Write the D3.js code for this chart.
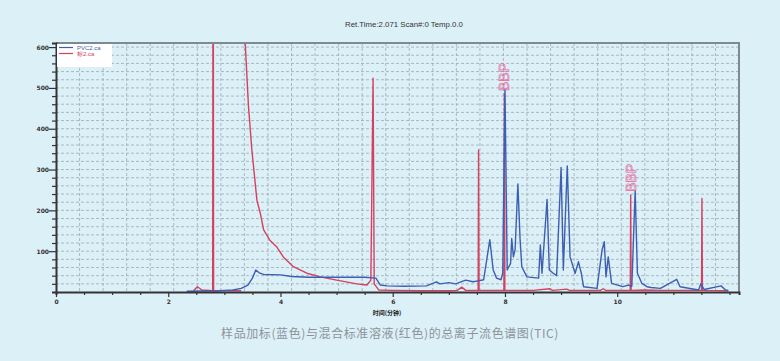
<!DOCTYPE html>
<meta charset="utf-8">
<style>
  body { margin: 0; background: #dcf0f8; }
  svg { display: block; }
</style>
<div id="tic"></div>
<script src="https://cdn.jsdelivr.net/npm/d3@7/dist/d3.min.js"></script>
<script>

// PVC2.ca (blue) - sample with spike
var blueTime = [2.33, 2.9, 3.0, 3.15, 3.3, 3.42, 3.5, 3.56, 3.62, 3.7, 4.0, 4.2, 4.5, 5.0, 5.5, 5.7, 5.78, 5.9,
  6.2, 6.6, 6.78, 6.84, 7.0, 7.12, 7.3, 7.43, 7.55, 7.62, 7.73, 7.79, 7.85, 7.93, 7.96, 8.0, 8.04, 8.1, 8.12,
  8.15, 8.18, 8.23, 8.27, 8.3, 8.39, 8.6, 8.63, 8.66, 8.75, 8.79, 8.86, 8.92, 9.0, 9.04, 9.11, 9.16, 9.25,
  9.31, 9.36, 9.4, 9.64, 9.73, 9.77, 9.8, 9.84, 9.9, 10.1, 10.2, 10.26, 10.32, 10.36, 10.44, 10.53, 10.6,
  10.77, 11.06, 11.12, 11.45, 11.49, 11.55, 11.85, 11.93, 11.98];
var blueVal = [2, 3, 4, 5, 9, 17, 34, 54, 47, 43, 42, 38, 36, 36, 36, 34, 17, 15,
  14, 15, 25, 20, 23, 20, 29, 25, 28, 30, 128, 54, 34, 30, 46, 497, 54, 70, 131,
  86, 103, 265, 127, 62, 37, 34, 115, 46, 227, 54, 46, 40, 305, 54, 309, 86, 46,
  74, 46, 13, 9, 103, 123, 37, 86, 21, 13, 17, 14, 248, 46, 21, 13, 11,
  9, 31, 13, 5, 20, 6, 15, 5, 4];

// 标2.ca (red) - mixed standard; NaN = no data
var redTime = [2.45, 2.52, 2.6, 2.792, 2.8, 2.808, 3.3, 3.33, 3.36, 3.43, 3.49, 3.58, 3.64, 3.7, 3.81, 3.93,
  4.05, 4.23, 4.47, 4.71, 5.0, 5.36, 5.54, 5.61, 5.65, 5.67, 5.75, 6.0, 6.5, 7.0, 7.15, 7.23, 7.3, 7.522,
  7.53, 7.538, 7.982, 7.99, 7.998, 8.5, 8.8, 8.85, 9.1, 9.15, 9.7, 9.75, 9.8, 10.232, 10.24, 10.248, 10.5,
  10.8, 11.502, 11.51, 11.518, 11.98];
var redVal = [3, 13, 5, 3, 1200, 3, 3, NaN, 640, 454, 348, 225, 193, 152, 127, 111,
  86, 62, 46, 37, 29, 20, 17, 29, 524, 20, 5, 4, 3, 3, 4, 12, 4, 4,
  348, 4, 4, 485, 4, 4, 8, 4, 7, 4, 4, 8, 4, 4, 238, 4, 5,
  4, 4, 229, 4, 3];

var peakNames = ["BBP", "BBP"];
var peakTimes = [7.99, 10.24];
var peakVals = [485, 238];

var xLabels = [0, 2, 4, 6, 8, 10];
var yLabels = [100, 200, 300, 400, 500, 600];

var W = 780, H = 361;
var margin = {top: 43, right: 41, bottom: 69, left: 56},
    width = W - margin.left - margin.right,
    height = H - margin.top - margin.bottom;

var blueC = "#3d5fb2", redC = "#d6405f";

var svg = d3.select("#tic")
  .append("svg")
    .attr("width", W)
    .attr("height", H);

svg.append("text")
  .attr("x", 404).attr("y", 27)
  .attr("text-anchor", "middle")
  .style("font-family", "Liberation Sans, Arial, sans-serif")
  .style("font-size", "7.8px")
  .attr("fill", "#333")
  .text("Ret.Time:2.071 Scan#:0 Temp.0.0");

var g = svg.append("g")
  .attr("transform", "translate(" + margin.left + "," + margin.top + ")");

var x = d3.scaleLinear().domain([0, 12.17]).range([0, width]);
var y = d3.scaleLinear().domain([0, 610]).range([height, 0]);

// grid
g.append("g")
  .selectAll("line")
  .data(d3.range(20, 601, 20))
  .enter().append("line")
    .attr("x1", 0).attr("x2", width)
    .attr("y1", function(d) { return y(d); })
    .attr("y2", function(d) { return y(d); })
    .attr("stroke", "#9daab2")
    .attr("stroke-width", 0.8)
    .attr("stroke-dasharray", "3,2");

g.append("g")
  .selectAll("line")
  .data(d3.range(1, 29))
  .enter().append("line")
    .attr("x1", function(d) { return d * width / 29; })
    .attr("x2", function(d) { return d * width / 29; })
    .attr("y1", 0).attr("y2", height)
    .attr("stroke", "#9daab2")
    .attr("stroke-width", 0.8)
    .attr("stroke-dasharray", "3,2");

// clip
svg.append("defs").append("clipPath").attr("id", "clip")
  .append("rect").attr("width", width).attr("height", height);

var line = d3.line()
  .defined(function(d) { return !isNaN(d[1]); })
  .x(function(d) { return x(d[0]); })
  .y(function(d) { return y(d[1]); });

var blueData = blueTime.map(function(t, i) { return [t, blueVal[i]]; });
var redData = redTime.map(function(t, i) { return [t, redVal[i]]; });

var plot = g.append("g").attr("clip-path", "url(#clip)");

plot.append("path")
  .datum(redData)
  .attr("fill", "none")
  .attr("stroke", redC)
  .attr("stroke-width", 1.4)
  .attr("stroke-linejoin", "round")
  .attr("d", line);

plot.append("path")
  .datum(blueData)
  .attr("fill", "none")
  .attr("stroke", blueC)
  .attr("stroke-width", 1.4)
  .attr("stroke-linejoin", "round")
  .attr("d", line);

// peak labels
g.selectAll(".peak")
  .data(peakNames)
  .enter().append("text")
    .attr("class", "peak")
    .attr("transform", function(d, i) {
      return "translate(" + (x(peakTimes[i]) + 5) + "," + (y(peakVals[i]) - 3) + ")rotate(-90)";
    })
    .style("font-family", "Liberation Sans, Arial, sans-serif")
    .style("font-size", "14px")
    .attr("fill", "none")
    .attr("stroke", "#e5639a")
    .attr("stroke-width", 0.6)
    .text(function(d) { return d; });

// frame top/right
g.append("path")
  .attr("d", "M0,0H" + width + "V" + height)
  .attr("fill", "none")
  .attr("stroke", "#7d8a93")
  .attr("stroke-width", 2);

// axes
var xAxis = g.append("g")
  .attr("transform", "translate(0," + height + ")")
  .call(d3.axisBottom(x)
    .tickValues(d3.range(0, 12.01, 0.5))
    .tickSize(3)
    .tickPadding(5)
    .tickFormat(function(d) { return xLabels.indexOf(d) >= 0 ? d : ""; }));
xAxis.selectAll(".tick line")
  .attr("y2", function(d) { return xLabels.indexOf(d) >= 0 ? 5 : 3; });

var yAxis = g.append("g")
  .call(d3.axisLeft(y)
    .tickValues(d3.range(20, 601, 20))
    .tickSize(4)
    .tickPadding(3)
    .tickFormat(function(d) { return yLabels.indexOf(d) >= 0 ? d : ""; }));
yAxis.selectAll(".tick line")
  .attr("x2", function(d) { return yLabels.indexOf(d) >= 0 ? -7 : -4; });

[xAxis, yAxis].forEach(function(a) {
  a.select(".domain").attr("stroke", "#333").attr("stroke-width", 2);
  a.selectAll(".tick line").attr("stroke", "#333").attr("stroke-width", 1.2);
  a.selectAll("text")
    .attr("fill", "#333")
    .style("font-family", "DejaVu Sans, sans-serif")
    .style("font-size", "6px")
    .style("font-weight", "bold");
});

// x title
g.append("text")
  .attr("x", x(5.9)).attr("y", height + 23)
  .attr("text-anchor", "middle")
  .style("font-family", "Noto Sans CJK SC, sans-serif")
  .style("font-size", "6px")
  .style("font-weight", "bold")
  .attr("fill", "#222")
  .text("时间(分钟)");

// legend
var leg = g.append("g").attr("transform", "translate(1,1)");
leg.append("rect").attr("width", 55).attr("height", 23).attr("fill", "#fff");
[["PVC2.ca", blueC], ["标2.ca", redC]].forEach(function(d, i) {
  leg.append("line")
    .attr("x1", 2).attr("x2", 16)
    .attr("y1", 3.5 + i * 6).attr("y2", 3.5 + i * 6)
    .attr("stroke", d[1]).attr("stroke-width", 1.2);
  leg.append("text")
    .attr("x", 20).attr("y", 5.5 + i * 6)
    .style("font-family", "Liberation Sans, Arial, sans-serif")
    .style("font-size", "6px")
    .attr("fill", d[1])
    .text(d[0]);
});

// caption
svg.append("text")
  .attr("x", 390).attr("y", 338)
  .attr("text-anchor", "middle")
  .style("font-family", "Noto Sans CJK SC, sans-serif")
  .style("font-size", "12px")
  .style("letter-spacing", "0.6px")
  .attr("fill", "#8c949a")
  .text("样品加标(蓝色)与混合标准溶液(红色)的总离子流色谱图(TIC)");

</script>
